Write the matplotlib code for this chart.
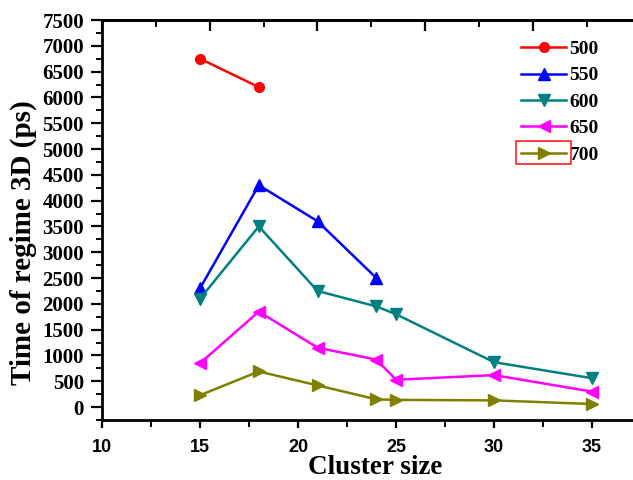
import numpy as np
import matplotlib.pyplot as plt
from matplotlib.ticker import MultipleLocator, NullFormatter
from matplotlib.patches import Rectangle

plt.rcParams['font.weight'] = 'bold'
plt.rcParams['font.family'] = 'Liberation Serif'
plt.rcParams['axes.labelweight'] = 'bold'

# cluster sizes and regime-3D times (ps) for each temperature
x500 = [15, 18]
t500 = [6750, 6200]
x550 = [15, 18, 21, 24]
t550 = [2300, 4300, 3600, 2500]
x600 = [15, 18, 21, 24, 25, 30, 35]
t600 = [2100, 3500, 2250, 1950, 1800, 870, 560]
x650 = [15, 18, 21, 24, 25, 30, 35]
t650 = [850, 1850, 1150, 920, 530, 620, 300]
x700 = [15, 18, 21, 24, 25, 30, 35]
t700 = [230, 690, 420, 150, 140, 130, 60]

fig = plt.figure(figsize=(6.33, 4.8), dpi=100)
ax = fig.add_axes([102 / 633, 60 / 480, 531 / 633, 400 / 480])

ax.plot(x500, t500, color='#ff0000', marker='o', ms=7, lw=1.8, label='500')
ax.plot(x550, t550, color='#0000ff', marker='^', ms=8, lw=1.8, label='550')
ax.plot(x600, t600, color='#008080', marker='v', ms=8, lw=1.8, label='600')
ax.plot(x650, t650, color='#ff00ff', marker='<', ms=8, lw=1.8, label='650')
ax.plot(x700, t700, color='#808000', marker='>', ms=8, lw=1.8, label='700')

ax.set_xlim(10, 10 + 531 / 19.6)
ax.set_ylim(-250, 7500)
ax.xaxis.set_major_locator(MultipleLocator(5))
ax.xaxis.set_minor_locator(MultipleLocator(2.5))
ax.yaxis.set_major_locator(MultipleLocator(500))
ax.yaxis.set_minor_locator(MultipleLocator(250))

ax.spines['right'].set_visible(False)
for s in ['left', 'bottom', 'top']:
    ax.spines[s].set_linewidth(2)

ax.tick_params(axis='y', which='major', direction='out', length=8, width=1.6, pad=5,
               labelsize=15, labelfontfamily='Liberation Serif')
ax.tick_params(axis='y', which='minor', direction='out', length=4, width=1.4)
ax.tick_params(axis='x', which='major', direction='out', length=6, width=1.6, pad=8,
               labelsize=13, labelfontfamily='Liberation Sans')
ax.tick_params(axis='x', which='minor', direction='out', length=5, width=1.4)

ax.set_xlabel('Cluster size', fontsize=19.5, fontweight='bold')
ax.set_ylabel('Time of regime 3D (ps)', fontsize=21, fontweight='bold')
ax.xaxis.set_label_coords(0.515, -0.088)
ax.yaxis.set_label_coords(-0.1224, 0.4425)

# unlabelled top axis with its own tick spacing
top = ax.twiny()
top.set_xlim(0, 531 / 107.7)
top.xaxis.set_major_locator(MultipleLocator(1))
top.xaxis.set_minor_locator(MultipleLocator(0.5))
top.xaxis.set_major_formatter(NullFormatter())
top.tick_params(axis='x', which='major', direction='in', length=8, width=1.6)
top.tick_params(axis='x', which='minor', direction='in', length=5, width=1.4)
for s in ['left', 'right', 'bottom']:
    top.spines[s].set_visible(False)
top.spines['top'].set_linewidth(2)

leg = ax.legend(loc='upper left', frameon=False, prop={'size': 14, 'weight': 'bold'},
                handlelength=2.27, handletextpad=0.2, labelspacing=0.45,
                bbox_to_anchor=(0.757, 0.9925))

# red box around the last legend entry's handle
fig.canvas.draw()
r = fig.canvas.get_renderer()
bb = leg.legend_handles[-1].get_window_extent(r)
inv = fig.transFigure.inverted()
x0, y0 = inv.transform((bb.x0, bb.y0 - 6))
x1, y1 = inv.transform((bb.x1, bb.y1 + 6))
fig.add_artist(Rectangle((x0, y0), x1 - x0, y1 - y0, transform=fig.transFigure,
                         fill=False, edgecolor='#ff2020', lw=1.2))

fig.savefig('out.png', dpi=100)
